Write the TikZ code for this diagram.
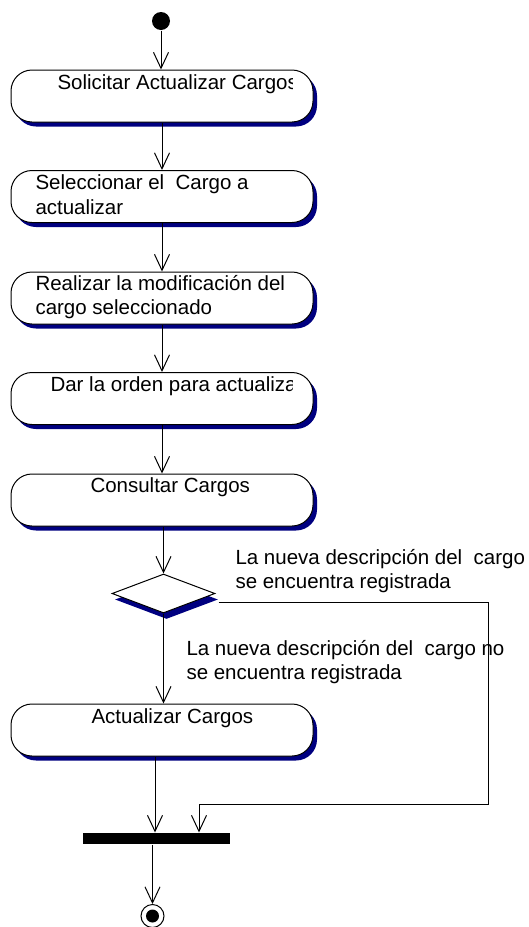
\documentclass[tikz,border=0pt]{standalone}
\usepackage{fontspec}
\setmainfont{Liberation Sans}
\usetikzlibrary{arrows.meta,shapes.geometric,shadows}
\definecolor{shadownavy}{RGB}{0,0,128}
\begin{document}
\begin{tikzpicture}[x=1pt,y=-1pt,line width=1pt,
  arr/.style={draw=black, -{Straight Barb[length=16pt,width=15pt,line width=1pt]}},
  actbox/.style={draw=black, fill=white, rounded corners=21pt, minimum width=302pt,
    minimum height=52pt, inner sep=0pt,
    drop shadow={shadow xshift=4pt, shadow yshift=-4.5pt, fill=shadownavy, opacity=1}},
  lbl/.style={anchor=base west, inner sep=0pt, font=\fontsize{20.5}{24}\selectfont}]
\useasboundingbox (0,0) rectangle (529,927);

% start
\node[circle, fill=black, minimum size=18pt, inner sep=0pt] (start) at (161,21) {};

% activity boxes
\node[actbox] (b1) at (162,96) {};
\node[actbox] (b2) at (162,196.5) {};
\node[actbox] (b3) at (162,298) {};
\node[actbox] (b4) at (162,398.5) {};
\node[actbox] (b5) at (162,500) {};
\node[actbox] (b6) at (162,730) {};

% decision
\node[diamond, draw=black, fill=white, minimum width=103pt, minimum height=39pt, inner sep=0pt,
  drop shadow={shadow xshift=3pt, shadow yshift=-6pt, fill=shadownavy, opacity=1}] (dm) at (163.5,593.5) {};

% synchronisation bar
\node[fill=black, minimum width=147pt, minimum height=11pt, inner sep=0pt] (bar) at (156.5,838.5) {};

% end
\node[circle, draw=black, fill=white, minimum size=23pt, inner sep=0pt] (end) at (152.5,916) {};
\node[circle, fill=black, minimum size=13pt, inner sep=0pt] (endin) at (end) {};

% texts
\begin{scope}
\clip (11,60) rectangle (292,130);
\node[lbl] (t1) at (57,89) {Solicitar Actualizar Cargos};
\end{scope}
\node[lbl] (t2a) at (35,189) {Seleccionar el\ \ Cargo a};
\node[lbl] (t2b) at (35,214) {actualizar};
\node[lbl] (t3a) at (35,290) {Realizar la modificación del};
\node[lbl] (t3b) at (35,314) {cargo seleccionado};
\begin{scope}
\clip (11,360) rectangle (292,430);
\node[lbl] (t4) at (50,391) {Dar la orden para actualizar};
\end{scope}
\node[lbl] (t5) at (90,492) {Consultar Cargos};
\node[lbl] (t6) at (91,723) {Actualizar Cargos};
\node[lbl] (g1a) at (235,564) {La nueva descripción del\ \ cargo};
\node[lbl] (g1b) at (235,588) {se encuentra registrada};
\node[lbl] (g2a) at (186,655) {La nueva descripción del\ \ cargo no};
\node[lbl] (g2b) at (186,679) {se encuentra registrada};

% helper coordinates
\coordinate (j1) at (155,0);
\coordinate (j2) at (199,0);
\coordinate (k1) at (488,804);

% connectors
\draw[arr] (start) -- (start |- b1.north);
\draw[arr] (b1) -- (b2);
\draw[arr] (b2) -- (b3);
\draw[arr] (b3) -- (b4);
\draw[arr] (b4) -- (b5);
\draw[arr] (b5.south -| dm) -- (dm.north);
\draw[arr] (dm.south) -- (dm.south |- b6.north);
\draw[arr] (b6.south -| j1) -- (bar.north -| j1);
\draw[arr] ([shift={(3,9)}]dm.east) -| (k1) -| (bar.north -| j2);
\draw[arr] (bar.south -| end) -- (end.north);
\end{tikzpicture}
\end{document}
